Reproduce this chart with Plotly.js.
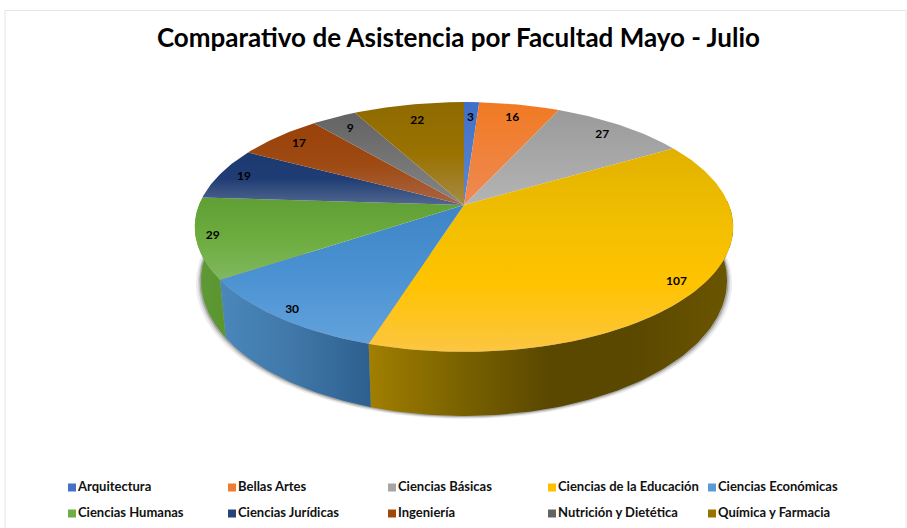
<!DOCTYPE html>
<html><head><meta charset="utf-8">
<script src="https://cdn.plot.ly/plotly-3.0.1.min.js"></script>
<style>html,body{margin:0;padding:0;background:#fff}#c{width:907px;height:528px}</style>
</head><body><div id="c"></div>
<script>
// Data
const faculties = ["Arquitectura","Bellas Artes","Ciencias Básicas","Ciencias de la Educación","Ciencias Económicas","Ciencias Humanas","Ciencias Jurídicas","Ingeniería","Nutrición y Dietética","Química y Farmacia"];
const attendance = [3,16,27,107,30,29,19,17,9,22];
const swatchColors = ["#4472c4","#ed7d31","#a5a5a5","#ffc000","#5b9bd5","#70ad47","#264478","#9e480e","#636363","#997300"];
const topShades = [
  ["#5f88d2","#3f6fc6"],["#ee8a55","#f17a22"],["#b4b4b4","#9a9a9a"],
  ["#fcc642","#ffc300","#f0be00","#e2b100"],["#62a2dc","#4b92d2","#3f85c5"],
  ["#80b860","#6dac3e","#5f9f35"],["#52688f","#1f3c74","#1c3a70"],
  ["#aa6545","#9e4a12","#99420a"],["#858585","#636363"],["#a68a45","#997200","#8f6a00"]];
const wallShades = {
  3:["#a17f00","#7a6200","#5a4700","#5c4900","#6b5600"],
  4:["#4a87bb","#3f77a8","#2d5f8e"],
  5:["#5f9a36","#5a9530"]};
const labelRadius = [.82,.85,.87,.92,.94,.94,.90,.88,.86,.82];

// Pie projection, in the page's pixel units
const CX=464,CY=205,RX=265,RY=121,K=.176,BX=.977,BY0=51.6,BYK=1.085;
const total = attendance.reduce((a,b)=>a+b,0);
const rad = d=>d*Math.PI/180;
function topPt(deg,f=1){const u=f*Math.sin(rad(deg)),v=f*Math.cos(rad(deg)),s=1/(1+K*v);return [CX+RX*u*s,CY-RY*v*s];}
function botPt(deg,grow=0,dy=0){const u=Math.sin(rad(deg)),v=Math.cos(rad(deg)),s=1/(1+K*v);
  return [CX+(BX*RX+grow)*u*s,CY+BY0+BYK*(-RY*v*s)+dy];}
function range(a,b){const o=[],n=Math.max(2,Math.ceil(Math.abs(b-a)));for(let i=0;i<=n;i++)o.push(a+(b-a)*i/n);return o;}
function scale(cols){return cols.map((c,i)=>[i/(cols.length-1),c]);}
const bounds=[0];attendance.forEach((v,i)=>bounds.push(bounds[i]+v/total*360));

const traces=[];
// soft shadow under the drum
[[5,3,"rgba(0,0,0,0.07)"],[3,2,"rgba(0,0,0,0.12)"],[1.5,1,"rgba(0,0,0,0.2)"]].forEach(([g,d,col])=>{
  const pts=range(88,272).map(a=>botPt(a,g,d));
  traces.push({type:"scatter",mode:"lines",x:pts.map(p=>p[0]),y:pts.map(p=>p[1]),fill:"toself",fillcolor:col,line:{width:0},hoverinfo:"skip",showlegend:false});
});
// side walls of the front-facing slices
Object.keys(wallShades).forEach(k=>{
  const i=+k,a=Math.max(bounds[i],88),b=Math.min(bounds[i+1],272);
  const up=range(a,b).map(d=>topPt(d)),lo=range(b,a).map(d=>botPt(d));
  const pts=up.concat(lo);pts.push(up[0]);
  traces.push({type:"scatter",mode:"lines",x:pts.map(p=>p[0]),y:pts.map(p=>p[1]),fill:"toself",
    fillgradient:{type:"horizontal",colorscale:scale(i==3?wallShades[i]:wallShades[i].slice())},
    line:{width:0},hoverinfo:"skip",showlegend:false});
});
// top face
attendance.forEach((v,i)=>{
  const arc=range(bounds[i],bounds[i+1]).map(d=>topPt(d));
  const pts=[[CX,CY]].concat(arc,[[CX,CY]]);
  traces.push({type:"scatter",mode:"lines",x:pts.map(p=>p[0]),y:pts.map(p=>p[1]),fill:"toself",
    fillgradient:{type:"vertical",colorscale:scale(topShades[i])},
    line:{width:0},name:faculties[i],text:faculties[i]+": "+v,hoverinfo:"text",showlegend:false});
});
// value labels
const lab=attendance.map((v,i)=>topPt((bounds[i]+bounds[i+1])/2,labelRadius[i]));
traces.push({type:"scatter",mode:"text",x:lab.map(p=>p[0]),y:lab.map(p=>p[1]),text:attendance.map(String),
  textposition:"middle center",textfont:{family:"Lato, Carlito, sans-serif",size:12,weight:700,color:"#000"},hoverinfo:"skip",showlegend:false});
// legend grid
const LEG_X=72,LEG_DX=160,LEG_Y=[487.5,513.5],PER_ROW=5;
faculties.forEach((n,i)=>{
  const dx=i%PER_ROW;
  traces.push({type:"scatter",mode:"markers+text",x:[LEG_X+LEG_DX*dx],y:[LEG_Y[Math.floor(i/PER_ROW)]],text:[n],
    textposition:"middle right",marker:{symbol:"square",size:8,color:swatchColors[i]},
    textfont:{family:"Lato, Carlito, sans-serif",size:13,weight:700,color:"#111"},hoverinfo:"skip",showlegend:false,cliponaxis:false});
});

Plotly.newPlot("c",traces,{
  width:907,height:528,margin:{l:0,r:0,t:0,b:0},paper_bgcolor:"#fff",plot_bgcolor:"#fff",showlegend:false,
  title:{text:"Comparativo de Asistencia por Facultad Mayo - Julio",x:.5055,xanchor:"center",y:.928,yanchor:"middle",
    font:{family:"Lato, Carlito, sans-serif",size:26,weight:700,color:"#000"}},
  xaxis:{range:[0,907],visible:false,fixedrange:true},
  yaxis:{range:[528,0],visible:false,fixedrange:true},
  shapes:[{type:"rect",xref:"x",yref:"y",x0:5,x1:906,y0:10.5,y1:540,line:{color:"#e4e4e4",width:1},fillcolor:"rgba(0,0,0,0)",layer:"below"}]
},{displayModeBar:false,staticPlot:false});
</script></body></html>
